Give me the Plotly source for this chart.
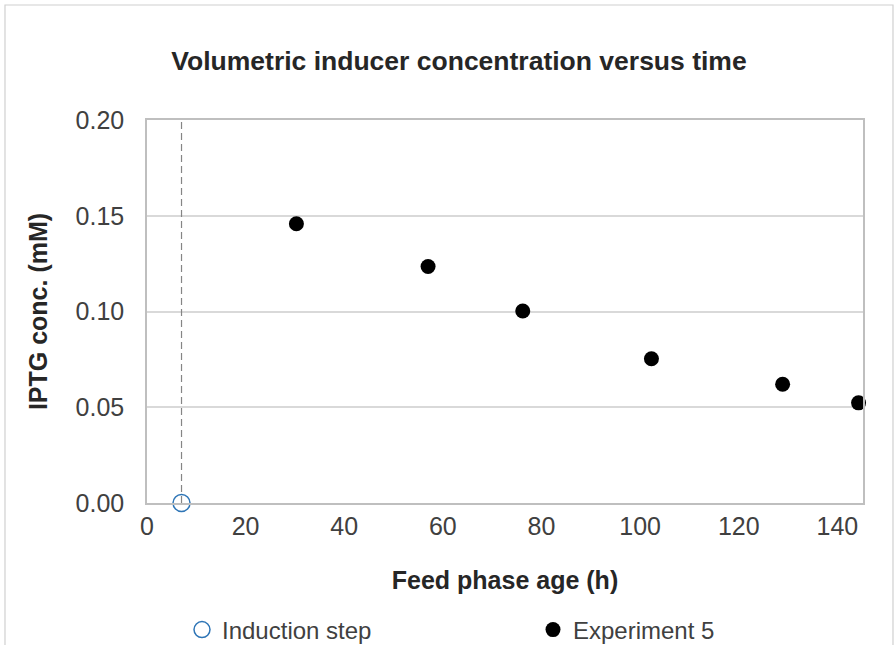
import plotly.graph_objects as go

# Data
induction_x = [7.0]
induction_y = [0.0]
exp5_x = [30.3, 57.0, 76.2, 102.3, 128.9, 144.3]
exp5_y = [0.1458, 0.1235, 0.1003, 0.0753, 0.0620, 0.0523]
marker_line_y = [0.0, 0.2]
y_ticks = [0.0, 0.05, 0.10, 0.15, 0.20]
y_tick_labels = ["0.00", "0.05", "0.10", "0.15", "0.20"]
x_ticks = [0, 20, 40, 60, 80, 100, 120, 140]

FONT = "Liberation Sans, Arial, sans-serif"
TXT = "#404040"
FS = 25

PL, PR, PT, PB = 147, 863, 120, 503
PW, PH = PR - PL, PB - PT

fig = go.Figure()

fig.add_trace(go.Scatter(
    x=[induction_x[0], induction_x[0]], y=marker_line_y, mode="lines",
    line=dict(color="#858585", width=1.2, dash="7px,4px"),
    showlegend=False, hoverinfo="skip"))

fig.add_trace(go.Scatter(
    x=induction_x, y=induction_y, mode="markers", name="Induction step",
    marker=dict(symbol="circle-open", size=17, color="#2e75b6", line=dict(width=1.5)),
    cliponaxis=False, legend="legend"))

fig.add_trace(go.Scatter(
    x=exp5_x, y=exp5_y, mode="markers", name="Experiment 5",
    marker=dict(symbol="circle", size=15, color="#000000"),
    cliponaxis=False, legend="legend2"))

leg_common = dict(orientation="h", yanchor="middle", yref="container", xref="container",
                  font=dict(size=FS - 1, color=TXT), itemwidth=30, bgcolor="rgba(0,0,0,0)",
                  borderwidth=0, tracegroupgap=0)

fig.update_layout(
    width=895, height=645,
    margin=dict(l=PL, r=895 - PR, t=PT, b=645 - PB, autoexpand=False),
    paper_bgcolor="white", plot_bgcolor="white",
    font=dict(family=FONT, size=FS, color=TXT),
    title=dict(text="<b>Volumetric inducer concentration versus time</b>",
               x=459/895, xanchor="center", y=1-61/645, yanchor="middle",
               font=dict(family=FONT, size=26.5, color="#262626")),
    xaxis=dict(range=[0, 145.2], tickvals=x_ticks, showgrid=False, zeroline=False,
               showline=True, linecolor="#bfbfbf", linewidth=1.5, mirror=True,
               ticks="", tickfont=dict(size=FS, color=TXT),
               title=dict(text="<b>Feed phase age (h)</b>", standoff=33,
                          font=dict(size=FS, color="#262626"))),
    yaxis=dict(range=[0, 0.2], tickvals=y_ticks, ticktext=y_tick_labels,
               showgrid=True, gridcolor="#d9d9d9", gridwidth=1.5, zeroline=False,
               showline=True, linecolor="#bfbfbf", linewidth=1.5, mirror=True,
               ticks="", ticklabelstandoff=16, tickfont=dict(size=FS, color=TXT),
               title=dict(text="<b>IPTG conc. (mM)</b>", standoff=21,
                          font=dict(size=FS, color="#262626"))),
    legend=dict(x=182/895, xanchor="left", y=1-630/645, **leg_common),
    legend2=dict(x=533/895, xanchor="left", y=1-630/645, **leg_common),
    shapes=[dict(type="rect", xref="paper", yref="paper",
                 x0=(5 - PL)/PW, x1=(893 - PL)/PW, y0=(PB - 660)/PH, y1=(PB - 5)/PH,
                 line=dict(color="#d0d0d0", width=1.2), fillcolor="rgba(0,0,0,0)", layer="below")],
)

fig.write_html("out.html", config={"displayModeBar": False},
               post_script="document.body.style.margin='0';document.body.style.padding='0';")
